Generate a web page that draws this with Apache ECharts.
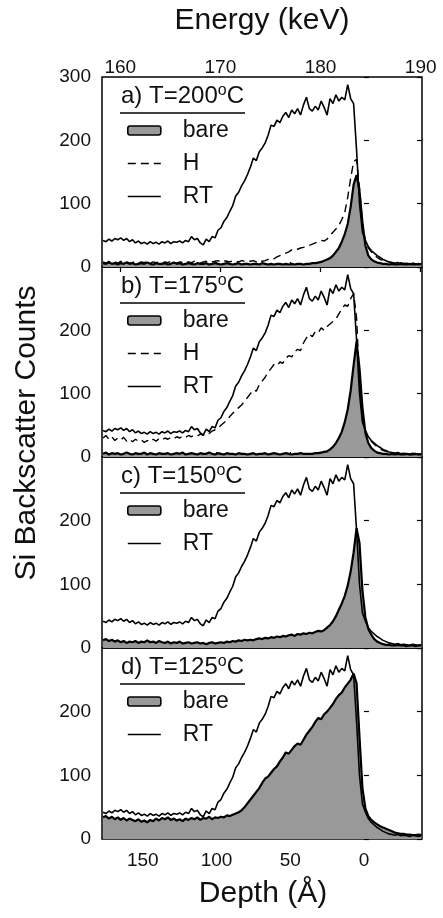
<!DOCTYPE html>
<html><head><meta charset="utf-8">
<script src="https://cdn.jsdelivr.net/npm/echarts@6/dist/echarts.min.js"></script>
<style>html,body{margin:0;padding:0;background:#fff}#c{width:443px;height:918px}</style>
</head><body><div id="c"></div>
<script>
// ---------- data ----------
const depth = [
 177,175,173,171,169,167,165,163,161,159,
 157,155,153,151,149,147,145,143,141,139,
 137,135,133,131,129,127,125,123,121,119,
 117,115,113,111,109,107,105,103,101,99,
 97,95,93,91,89,87,85,83,81,79,
 77,75,73,71,69,67,65,63,61,59,
 57,55,53,51,49,47,45,43,41,39,
 37,35,33,31,29,27,25,23,21,19,
 17,15,13,11,9,7,5,3,1,-1,
 -3,-5,-7,-9,-11,-13,-15,-17,-19,-21,
 -23,-25,-27,-29,-31,-33,-35,-37,-39];

const rtCounts = [
 42,40,44,41,45,43,46,42,45,40,
 43,38,41,37,39,36,40,37,39,36,
 40,38,41,37,40,39,41,38,42,40,
 48,43,45,38,35,44,40,48,46,58,
 62,72,78,88,97,112,118,128,136,146,
 158,172,168,182,188,196,208,224,222,232,
 228,238,244,236,248,242,250,240,256,268,
 250,246,254,248,262,252,240,266,258,272,
 262,268,264,288,266,258,185,100,55,42,
 32,26,22,18,15,12,10,8,7,6,
 7,5,6,5,4,6,5,4,5];

const bareA = [
 6,5,7,5,6,4,6,5,7,5,
 6,4,5,6,5,7,5,4,6,5,
 5,6,4,5,7,5,6,4,5,6,
 5,4,6,5,5,6,4,5,6,5,
 4,5,6,5,4,5,6,4,5,5,
 4,5,5,4,6,5,4,5,4,5,
 5,4,5,4,5,4,5,5,4,5,
 5,6,6,7,8,10,12,14,18,24,
 30,40,52,68,95,130,145,120,70,34,
 18,12,9,7,6,5,5,4,5,4,
 4,5,4,4,5,4,4,5,4];

const hA = [
 8,6,9,7,8,6,9,7,8,6,
 7,9,6,8,7,9,6,8,7,8,
 6,8,7,9,7,6,8,7,9,8,
 7,9,8,6,8,9,7,8,9,10,
 8,10,9,8,10,9,8,10,9,8,
 9,10,8,11,9,10,12,11,13,16,
 18,20,22,24,27,26,28,30,31,33,
 34,36,38,40,42,41,44,50,55,60,
 66,75,86,110,140,166,170,125,70,40,
 30,24,19,15,12,10,9,8,7,6,
 6,7,5,6,5,6,5,4,5];

const bareB = [
 5,7,4,6,5,6,4,5,7,5,
 4,6,5,5,7,4,6,5,4,6,
 5,5,6,4,5,6,5,7,4,5,
 6,5,4,6,5,5,7,5,4,6,
 5,4,6,5,5,4,6,5,5,4,
 5,6,4,5,5,6,4,5,6,5,
 4,5,6,5,4,5,5,6,5,5,
 5,5,6,6,7,8,9,12,16,22,
 30,40,55,75,105,145,182,140,78,38,
 22,14,10,7,6,5,5,4,5,4,
 5,4,4,5,4,4,5,4,4];

const hB = [
 30,34,28,32,26,30,27,31,25,28,
 24,28,25,27,23,26,24,28,25,29,
 27,30,28,31,29,32,30,33,31,34,
 32,35,33,36,34,38,37,41,43,45,
 50,54,58,64,69,74,78,82,88,94,
 100,106,104,114,120,126,134,140,146,144,
 150,148,156,160,158,166,170,168,180,188,
 194,190,198,196,204,200,206,210,214,218,
 226,234,240,238,250,258,220,120,58,40,
 30,25,20,16,13,10,9,8,7,6,
 6,5,6,5,4,5,5,4,5];

const bareC = [
 12,14,11,13,10,12,9,11,8,10,
 9,11,8,10,9,12,9,10,8,11,
 9,8,10,7,9,8,10,7,8,9,
 7,8,9,7,8,6,8,9,7,8,
 9,8,10,9,11,10,12,11,13,12,
 13,12,14,15,14,16,15,17,16,18,
 17,19,18,20,21,19,22,21,23,22,
 24,23,25,27,26,28,32,36,42,50,
 60,70,82,98,120,150,188,165,90,48,
 30,21,14,10,8,6,5,5,4,4,
 5,4,4,3,4,4,3,4,4];

const bareD = [
 34,36,32,35,31,34,30,33,29,32,
 30,28,31,27,29,26,30,28,32,29,
 33,31,34,30,32,29,31,28,32,30,
 33,31,34,30,33,32,35,31,34,33,
 35,34,37,36,38,40,42,45,50,56,
 62,68,74,80,88,95,98,104,110,114,
 122,128,136,134,140,146,150,148,156,164,
 170,176,184,190,188,196,200,206,212,220,
 226,230,238,244,250,260,245,160,80,48,
 36,30,26,23,20,18,16,14,12,10,
 9,8,8,7,7,6,6,7,6];

const panelLetters = ['a','b','c','d'];
const panelTemps = [200,175,150,125];
const panelBare = [bareA, bareB, bareC, bareD];
const panelH = [hA, hB, null, null];

const energyTicks = [160,170,180,190];
const depthTicks = [150,100,50,0];
const countTicks = [0,100,200,300];

// ---------- layout ----------
const FONT = '"Liberation Sans", Arial, Helvetica, sans-serif';
const INK = '#111';
const GRAY = '#999999';
const L = 102, R = 422;
const tops = [77, 267, 457, 648];
const heights = [190, 190, 191, 191];
const DASH = [8, 5];

const pairs = arr => depth.map((d, i) => [d, arr[i]]);

const grid = tops.map((t, i) => ({
  left: L, width: R - L, top: t, height: heights[i],
  show: true, borderColor: '#000', borderWidth: 1.5, backgroundColor: 'rgba(0,0,0,0)'
}));

const tickStyle = {color: '#000', width: 1.2};
const hiddenSymbol = {color: 'rgba(0,0,0,0)', borderColor: 'rgba(0,0,0,0)', borderWidth: 0, opacity: 0};
const xAxis = [], yAxis = [], series = [], legend = [], graphic = [];

tops.forEach((t, i) => {
  xAxis.push({
    type: 'value', gridIndex: i, position: 'bottom', min: -39.4, max: 177.7, inverse: true,
    axisLine: {show: false}, splitLine: {show: false},
    axisTick: {show: true, inside: true, length: 5, customValues: depthTicks, lineStyle: tickStyle},
    axisLabel: {show: i === 3, customValues: depthTicks, fontSize: 19, margin: 12, color: INK, fontFamily: FONT}
  });
  yAxis.push({
    type: 'value', gridIndex: i, position: 'left', min: 0, max: 300, interval: 100,
    axisLine: {show: false}, splitLine: {show: false},
    axisTick: {show: true, inside: true, length: 5, lineStyle: tickStyle},
    axisLabel: {customValues: i === 0 ? countTicks : countTicks.slice(0, 3), fontSize: 19, margin: 11, color: INK, fontFamily: FONT}
  });
  yAxis.push({
    type: 'value', gridIndex: i, position: 'right', min: 0, max: 300, interval: 100,
    axisLine: {show: false}, splitLine: {show: false},
    axisTick: {show: true, inside: true, length: 5, lineStyle: tickStyle},
    axisLabel: {show: false}
  });

  series.push({
    name: 'bare', type: 'line', xAxisIndex: i, yAxisIndex: 2 * i, data: pairs(panelBare[i]),
    symbol: 'none', showSymbol: false, lineStyle: {color: '#000', width: 2.2}, itemStyle: {color: '#000'},
    areaStyle: {color: GRAY, opacity: 1}, z: 2, silent: true
  });
  if (panelH[i]) {
    series.push({
      name: 'H', type: 'line', xAxisIndex: i, yAxisIndex: 2 * i, data: pairs(panelH[i]),
      symbol: 'none', showSymbol: false, lineStyle: {color: '#000', width: 1.4, type: DASH}, itemStyle: {color: '#000'},
      z: 3, silent: true
    });
  }
  series.push({
    name: 'RT', type: 'line', xAxisIndex: i, yAxisIndex: 2 * i, data: pairs(rtCounts),
    symbol: 'none', showSymbol: false, lineStyle: {color: '#000', width: 1.6}, itemStyle: {color: '#000'},
    z: 4, silent: true
  });

  const items = [{name: 'bare', icon: 'roundRect', itemStyle: {color: GRAY, borderColor: '#000', borderWidth: 1.6}}];
  if (panelH[i]) items.push({name: 'H', itemStyle: hiddenSymbol, lineStyle: {color: '#000', width: 1.4, type: DASH}});
  items.push({name: 'RT', itemStyle: hiddenSymbol, lineStyle: {color: '#000', width: 1.4, type: 'solid'}});
  legend.push({
    left: 127, top: t + 42, orient: 'vertical', itemWidth: 33, itemHeight: 9, itemGap: 10,
    padding: 0, selectedMode: false, data: items,
    textStyle: {fontSize: 23, lineHeight: 23, color: INK, fontFamily: FONT, padding: [0, 0, 0, 17]}
  });

  graphic.push({
    type: 'text', x: 121, y: t + 19.5, silent: true,
    style: {
      text: '{n|' + panelLetters[i] + ') T=' + panelTemps[i] + '}{s|o}{n|C}',
      rich: {
        n: {fontSize: 24, lineHeight: 28, fontFamily: FONT, fill: INK},
        s: {fontSize: 16, lineHeight: 16, verticalAlign: 'top', fontFamily: FONT, fill: INK}
      },
      align: 'left', verticalAlign: 'middle', textAlign: 'left', textVerticalAlign: 'middle'
    }
  });
  graphic.push({
    type: 'line', silent: true,
    shape: {x1: 120, y1: t + 36, x2: 245, y2: t + 36},
    style: {stroke: '#000', lineWidth: 1.5}
  });
});

xAxis.push({
  type: 'value', gridIndex: 0, position: 'top', min: 158.18, max: 190.13,
  axisLine: {show: false}, splitLine: {show: false},
  axisTick: {show: true, inside: true, length: 5, customValues: energyTicks, lineStyle: tickStyle},
  axisLabel: {customValues: energyTicks, fontSize: 19, margin: 0, color: INK, fontFamily: FONT}
});

graphic.push({
  type: 'text', x: 262, y: 21, silent: true,
  style: {text: 'Energy (keV)', fontSize: 30, fontFamily: FONT, fill: INK,
    align: 'center', verticalAlign: 'middle', textAlign: 'center', textVerticalAlign: 'middle'}
});
graphic.push({
  type: 'text', x: 263, y: 894, silent: true,
  style: {text: 'Depth (Å)', fontSize: 30, fontFamily: FONT, fill: INK,
    align: 'center', verticalAlign: 'middle', textAlign: 'center', textVerticalAlign: 'middle'}
});
graphic.push({
  type: 'text', x: 27, y: 433, rotation: Math.PI / 2, silent: true,
  style: {text: 'Si Backscatter Counts', fontSize: 30, fontFamily: FONT, fill: INK,
    align: 'center', verticalAlign: 'middle', textAlign: 'center', textVerticalAlign: 'middle'}
});

const chart = echarts.init(document.getElementById('c'));
chart.setOption({
  animation: false,
  backgroundColor: '#fff',
  grid, xAxis, yAxis, series, legend, graphic
});
</script>
</body></html>
